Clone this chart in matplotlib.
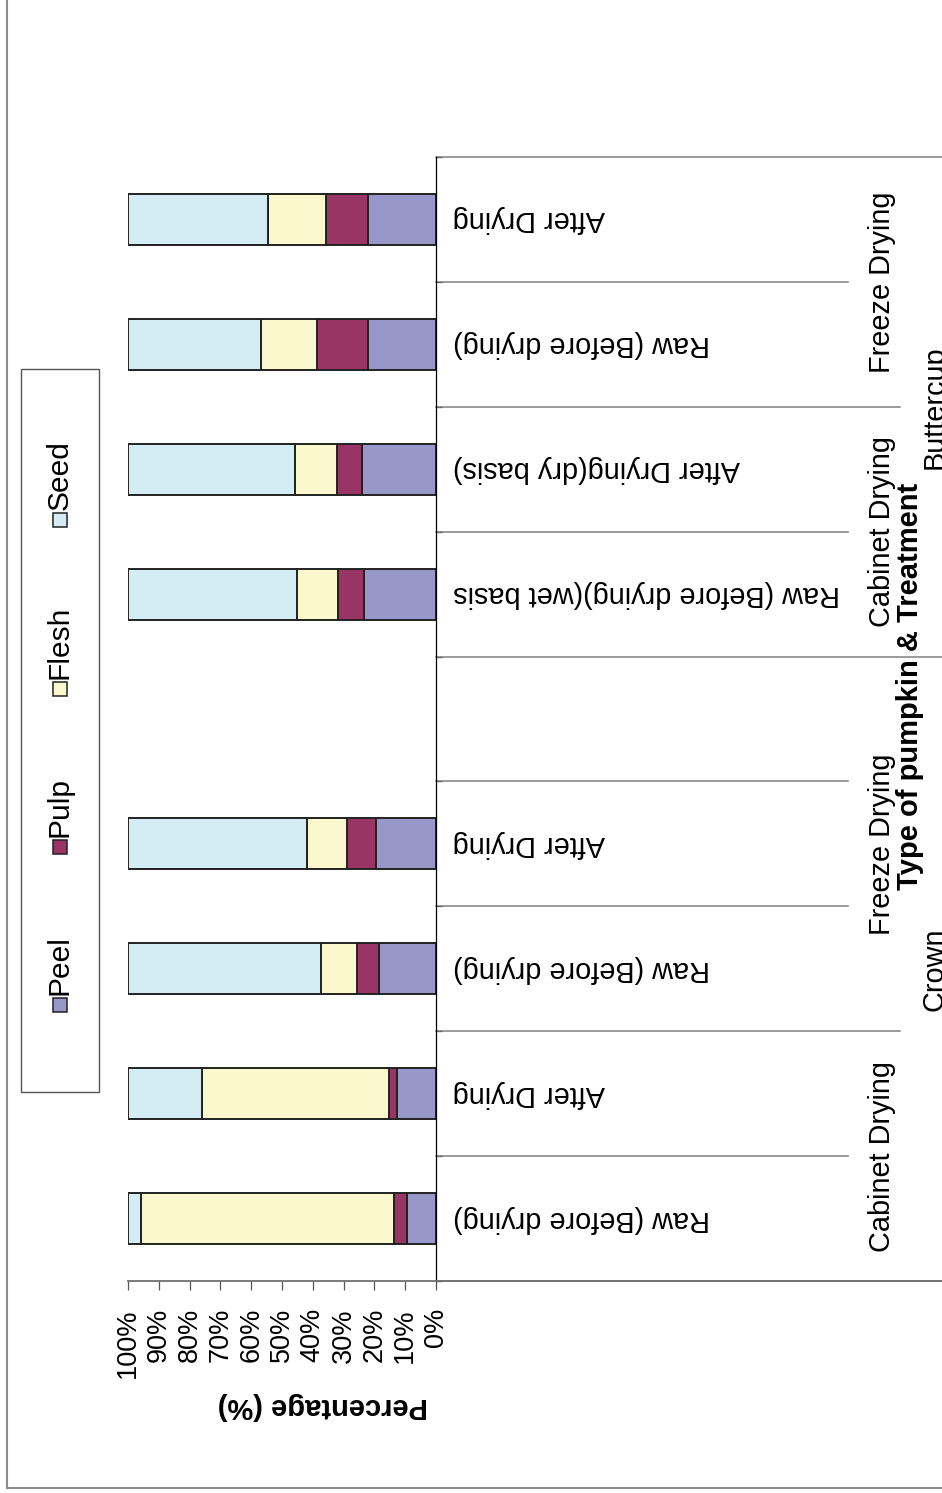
import numpy as np
import matplotlib
matplotlib.use("Agg")
import matplotlib.pyplot as plt
import matplotlib.patches as mpatches
import matplotlib.transforms as mtransforms

plt.rcParams['font.family'] = ['Liberation Sans', 'DejaVu Sans']

# categories, left to right in the original (bottom to top here)
pumpkin = ['Crown', 'Crown', 'Crown', 'Crown', 'Crown',
           'Buttercup', 'Buttercup', 'Buttercup', 'Buttercup']
treatment = ['Cabinet Drying', 'Cabinet Drying', 'Freeze Drying', 'Freeze Drying', 'Freeze Drying',
             'Cabinet Drying', 'Cabinet Drying', 'Freeze Drying', 'Freeze Drying']
stage = ['Raw (Before drying)', 'After Drying', 'Raw (Before drying)', 'After Drying', '',
         'Raw (Before drying)(wet basis', 'After Drying(dry basis)', 'Raw (Before drying)', 'After Drying']

# percentage of each part (nan = empty category)
peel = [9.5, 12.7, 18.5, 19.5, np.nan, 23.4, 24.0, 22.0, 22.0]
pulp = [4.1, 2.5, 7.1, 9.4, np.nan, 8.5, 8.2, 16.7, 13.7]
flesh = [82.2, 60.8, 11.8, 12.9, np.nan, 13.3, 13.6, 18.2, 19.0]
seed = [4.2, 24.0, 62.6, 58.2, np.nan, 54.8, 54.2, 43.1, 45.3]

parts = ['Peel', 'Pulp', 'Flesh', 'Seed']
colors = ['#9797c9', '#993564', '#fbf8ce', '#d4edf4']

W, H = 942, 1493
def fx(px):
    return px / W
def fy(py):
    return 1 - py / H

fig = plt.figure(figsize=(W / 100, H / 100), dpi=100)
ax = fig.add_axes([fx(128), fy(1281), (436 - 128) / W, (1281 - 157) / H])

data = np.array([peel, pulp, flesh, seed])
data = data / np.nansum(data, axis=0) * 100
pos = np.arange(len(stage)) + 0.5
ok = ~np.isnan(data[0])
left = np.zeros(len(stage))
for j in range(len(parts)):
    ax.barh(pos[ok], data[j][ok], left=left[ok], height=0.41, color=colors[j],
            edgecolor='#222222', linewidth=1.4)
    left = left + np.nan_to_num(data[j])

ax.set_xlim(100, 0)
ax.set_ylim(0, len(stage))
for s in ['top', 'left']:
    ax.spines[s].set_visible(False)
ax.spines['right'].set_color('black')
ax.spines['right'].set_linewidth(0.9)
ax.spines['bottom'].set_color('#707070')
ax.spines['bottom'].set_linewidth(1.3)

ax.set_xticks(range(0, 101, 10))
ax.set_xticklabels([f'{v}%' for v in range(0, 101, 10)])
ax.tick_params(axis='x', direction='out', length=6.5, width=0.9, color='#555555',
               pad=13, labelrotation=90, labelsize=19.5)
ax.yaxis.tick_right()
ax.set_yticks(range(len(stage) + 1))
ax.set_yticklabels([])
ax.tick_params(axis='y', direction='out', length=4, width=0.9, color='#222222')

trans = mtransforms.blended_transform_factory(fig.transFigure, ax.transData)

# stage labels (upside down)
for p, s in zip(pos, stage):
    ax.text(fx(453), p, s, transform=trans, rotation=180, ha='left', va='center',
            fontsize=20.8, clip_on=False)

# separators between categories
for k in range(len(stage) + 1):
    if k == 0 or k == len(stage) or pumpkin[k] != pumpkin[k - 1]:
        x_end = 1.0
    elif treatment[k] != treatment[k - 1]:
        x_end = fx(900)
    else:
        x_end = fx(848)
    col = '#808080'
    ax.plot([fx(436), x_end], [k, k], transform=trans, color=col, lw=1.1, clip_on=False)

# treatment labels
groups = []
for i in range(len(stage)):
    key = (pumpkin[i], treatment[i])
    if groups and groups[-1][0] == key:
        groups[-1][2] = i
    else:
        groups.append([key, i, i])
for key, a, b in groups:
    ax.text(fx(882), (a + b + 1) / 2, key[1], transform=trans, rotation=90,
            ha='center', va='center', fontsize=20.8, clip_on=False)

# pumpkin labels (cut at the right edge)
for name in ['Crown', 'Buttercup']:
    idx = [i for i, p in enumerate(pumpkin) if p == name]
    ax.text(fx(921), (idx[0] + idx[-1] + 1) / 2, name, transform=trans, rotation=90,
            ha='left', va='center', fontsize=20.8, clip_on=False)

fig.text(fx(910), fy(686), 'Type of pumpkin & Treatment', rotation=90, ha='center',
         va='center', fontsize=21, fontweight='bold')
fig.text(fx(323), fy(1406), 'Percentage (%)', rotation=180, ha='center', va='center',
         fontsize=21, fontweight='bold')

# bottom line continues to the edge
fig.add_artist(plt.Line2D([fx(436), 1.0], [fy(1281), fy(1281)], color='#707070', lw=1.3))

# legend, rotated
fig.add_artist(mpatches.Rectangle((fx(21), fy(1092)), (99 - 21) / W, (1092 - 369) / H,
                                  transform=fig.transFigure, fill=False,
                                  edgecolor='#555555', lw=1.0))
starts = [1012, 854, 696, 527]
for name, c, y0 in zip(parts, colors, starts):
    fig.add_artist(mpatches.Rectangle((fx(53), fy(y0)), 14 / W, 14 / H,
                                      transform=fig.transFigure, facecolor=c,
                                      edgecolor='#222222', lw=1.1))
    fig.text(fx(60), fy(y0 - 17), name, rotation=90, ha='center', va='bottom',
             fontsize=21.5)

# page border
fig.add_artist(plt.Line2D([fx(7), fx(7)], [1.0, fy(1488)], color='#8c8c8c', lw=1.5))
fig.add_artist(plt.Line2D([fx(7), 1.0], [fy(1488), fy(1488)], color='#8c8c8c', lw=1.5))

fig.savefig('out.png', dpi=100)
